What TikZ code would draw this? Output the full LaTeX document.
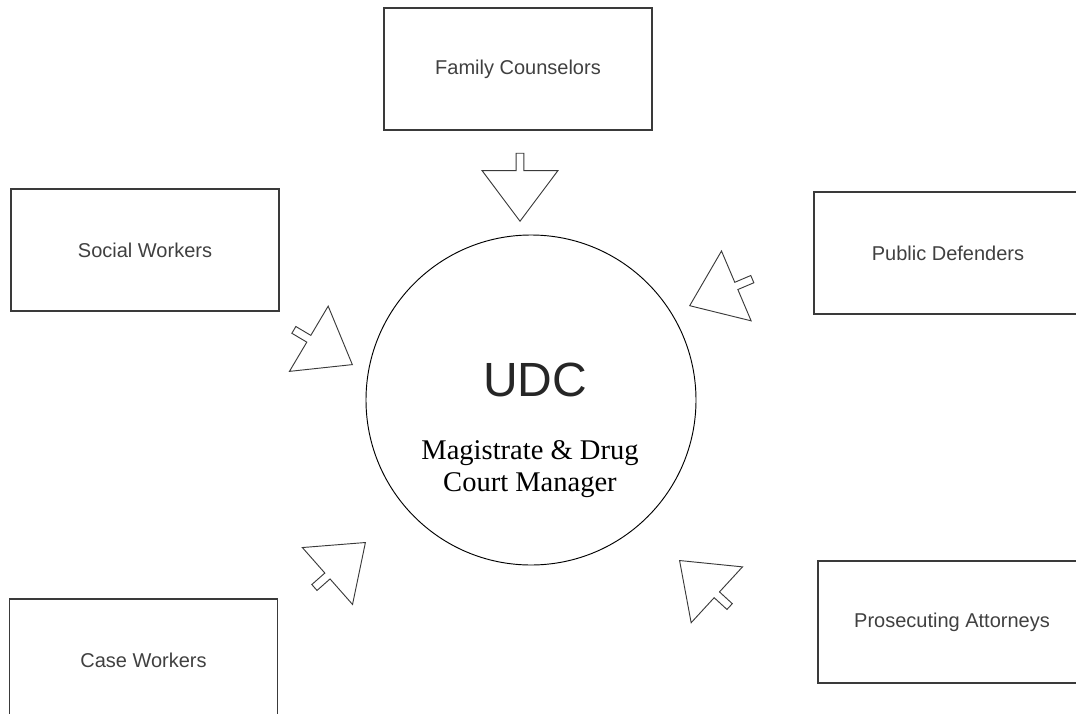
\documentclass[tikz,border=0pt]{standalone}
\usepackage{fontspec}
\setmainfont{Liberation Sans}
\newfontfamily\courtfont{Liberation Serif}
\usetikzlibrary{shapes.arrows}
\definecolor{boxline}{HTML}{3A3A3A}
\definecolor{labelgray}{HTML}{404040}
\tikzset{party/.style={draw=boxline, line width=1.1pt, minimum width=201pt, minimum height=91.5pt,
    text=labelgray, font=\fontsize{15}{18}\selectfont},
  feed/.style={draw=boxline, line width=0.7pt, single arrow, single arrow tip angle=73.7,
    single arrow head extend=25.5pt, minimum height=51pt, minimum width=56pt,
    inner xsep=0pt, inner ysep=2.6pt, anchor=tip}}

\begin{document}
\begin{tikzpicture}[x=0.75pt, y=-0.75pt]
    \useasboundingbox (0,0) rectangle (1076,714);
    \clip (0,0) rectangle (1076,714);

    \node[party] at (518, 69)    (FC) {Family Counselors};
    \node[party] at (145, 250)   (SW) {Social Workers};
    \node[party] at (948, 253)   (PD) {Public Defenders};
    \node[party] at (143.5, 660) (CW) {Case Workers};
    \node[party] at (952, 622)   (PA) {Prosecuting Attorneys};

    \node[draw, circle, line width=0.7pt, minimum size=247.5pt] at (531, 400) (UDC) {};
    \node[font=\fontsize{36}{40}\selectfont, text=black!85] at (535, 380) (title) {UDC};
    \node[font=\courtfont\fontsize{21.4}{24}\selectfont, align=center] at (530, 469) (role)
        {Magistrate \& Drug\\Court Manager};

    \node[feed, rotate=-90]   at (520, 222) (fcin) {};
    \node[feed, rotate=-30.7] at (353, 365) (swin) {};
    \node[feed, rotate=203]   at (689, 306) (pdin) {};
    \node[feed, rotate=41.4]  at (366, 542) (cwin) {};
    \node[feed, rotate=137.4] at (679, 560) (pain) {};
\end{tikzpicture}
\end{document}
